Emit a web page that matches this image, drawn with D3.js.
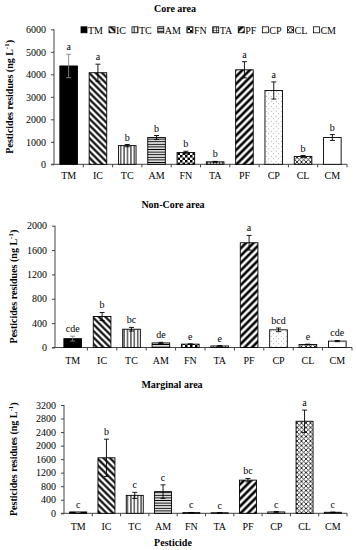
<!DOCTYPE html>
<html>
<head>
<meta charset="utf-8">
<script src="https://cdn.jsdelivr.net/npm/d3@7"></script>
<style>
  body { margin: 0; background: #fff; }
  svg { display: block; font-family: "Liberation Serif", "Times New Roman", serif; }
</style>
</head>
<body>
<div id="chart"></div>
<script>
// pesticides on the x axis
var categories = ["TM", "IC", "TC", "AM", "FN", "TA", "PF", "CP", "CL", "CM"];

// core area
var coreValues  = [4370, 4070, 830, 1190, 520, 110, 4200, 3280, 350, 1190];
var coreErrors  = [520, 380, 50, 90, 60, 20, 360, 380, 40, 130];
var coreLetters = ["a", "a", "b", "b", "b", "b", "a", "a", "b", "b"];
var coreTicks   = [0, 1000, 2000, 3000, 4000, 5000, 6000];

// non-core area
var nonCoreValues  = [145, 510, 300, 75, 55, 25, 1720, 290, 50, 105];
var nonCoreErrors  = [40, 65, 30, 10, 5, 5, 120, 30, 5, 10];
var nonCoreLetters = ["cde", "b", "bc", "de", "e", "e", "a", "bcd", "e", "cde"];
var nonCoreTicks   = [0, 400, 800, 1200, 1600, 2000];

// marginal area
var marginalValues  = [40, 1640, 530, 640, 20, 15, 980, 40, 2720, 30];
var marginalErrors  = [10, 550, 90, 200, 5, 5, 50, 10, 330, 5];
var marginalLetters = ["c", "b", "c", "c", "c", "c", "bc", "c", "a", "c"];
var marginalTicks   = [0, 400, 800, 1200, 1600, 2000, 2400, 2800, 3200];

var svg = d3.select("#chart").append("svg")
  .attr("width", 356)
  .attr("height", 550);

var defs = svg.append("defs");

// fill patterns, one per pesticide
function stripes(id, size, stroke, angle) {
  var p = defs.append("pattern").attr("id", id)
    .attr("patternUnits", "userSpaceOnUse")
    .attr("width", size).attr("height", size)
    .attr("patternTransform", "rotate(" + angle + ")");
  p.append("rect").attr("width", size).attr("height", size).attr("fill", "#fff");
  p.append("line").attr("x1", 0).attr("y1", size / 2).attr("x2", size).attr("y2", size / 2)
    .attr("stroke", "#000").attr("stroke-width", stroke);
}
stripes("p-IC", 4.6, 2.1, 45);
stripes("p-PF", 5.2, 2.6, -45);
stripes("p-TC", 3.4, 1, 90);
stripes("p-AM", 2.6, 1.1, 0);

var fn = defs.append("pattern").attr("id", "p-FN").attr("patternUnits", "userSpaceOnUse")
  .attr("width", 5).attr("height", 5);
fn.append("rect").attr("width", 5).attr("height", 5).attr("fill", "#fff");
fn.append("rect").attr("width", 2.5).attr("height", 2.5).attr("fill", "#000");
fn.append("rect").attr("x", 2.5).attr("y", 2.5).attr("width", 2.5).attr("height", 2.5).attr("fill", "#000");

var ta = defs.append("pattern").attr("id", "p-TA").attr("patternUnits", "userSpaceOnUse")
  .attr("width", 3).attr("height", 2.5);
ta.append("rect").attr("width", 3).attr("height", 2.5).attr("fill", "#fff");
ta.append("path").attr("d", "M0,0.5H3M0.5,0V2.5").attr("stroke", "#333").attr("stroke-width", 0.7);

var cp = defs.append("pattern").attr("id", "p-CP").attr("patternUnits", "userSpaceOnUse")
  .attr("width", 5).attr("height", 5);
cp.append("rect").attr("width", 5).attr("height", 5).attr("fill", "#fff");
cp.append("circle").attr("cx", 1.2).attr("cy", 1.2).attr("r", 0.45).attr("fill", "#666");
cp.append("circle").attr("cx", 3.7).attr("cy", 3.7).attr("r", 0.45).attr("fill", "#666");

var cl = defs.append("pattern").attr("id", "p-CL").attr("patternUnits", "userSpaceOnUse")
  .attr("width", 4.5).attr("height", 4.5);
cl.append("rect").attr("width", 4.5).attr("height", 4.5).attr("fill", "#fff");
cl.append("path").attr("d", "M0,0L4.5,4.5M4.5,0L0,4.5").attr("stroke", "#222").attr("stroke-width", 0.9);

var fills = {
  TM: "#000", IC: "url(#p-IC)", TC: "url(#p-TC)", AM: "url(#p-AM)", FN: "url(#p-FN)",
  TA: "url(#p-TA)", PF: "url(#p-PF)", CP: "url(#p-CP)", CL: "url(#p-CL)", CM: "#fff"
};

function drawPanel(o) {
  var g = svg.append("g");

  var x = d3.scaleBand().domain(categories).range([o.left + o.inset, o.right]).paddingInner(0.4).paddingOuter(0.2);
  var y = d3.scaleLinear().domain([0, d3.max(o.ticks)]).range([o.bottom, o.top]);

  // y axis
  var yAxis = g.append("g").attr("transform", "translate(" + o.left + ",0)")
    .call(d3.axisLeft(y).tickValues(o.ticks).tickSize(3).tickPadding(5).tickFormat(d3.format("d")));
  yAxis.select(".domain").attr("stroke", "#444").attr("d", "M0," + o.top + "V" + o.bottom);
  yAxis.selectAll(".tick line").attr("stroke", "#444");
  yAxis.selectAll("text").attr("font-size", 10).attr("font-family", "Liberation Serif").attr("fill", "#000");

  // x axis line with separator ticks
  g.append("line").attr("x1", o.left - 3).attr("x2", o.right).attr("y1", o.bottom).attr("y2", o.bottom)
    .attr("stroke", "#444");
  var step = x.step();
  g.selectAll(".sep").data(categories).enter().append("line")
    .attr("x1", function(d) { return x(d) + x.bandwidth() + (step - x.bandwidth()) / 2; })
    .attr("x2", function(d) { return x(d) + x.bandwidth() + (step - x.bandwidth()) / 2; })
    .attr("y1", o.bottom).attr("y2", o.bottom + 3)
    .attr("stroke", "#444");

  g.selectAll(".xl").data(categories).enter().append("text")
    .attr("x", function(d) { return x(d) + x.bandwidth() / 2; })
    .attr("y", o.labelY)
    .attr("text-anchor", "middle").attr("font-size", 10)
    .text(function(d) { return d; });

  // bars
  g.selectAll(".bar").data(categories).enter().append("rect")
    .attr("x", function(d) { return x(d); })
    .attr("width", x.bandwidth())
    .attr("y", function(d, i) { return y(o.values[i]); })
    .attr("height", function(d, i) { return o.bottom - y(o.values[i]); })
    .attr("fill", function(d) { return fills[d]; })
    .attr("stroke", "#000").attr("stroke-width", 0.9);

  // error bars
  var cap = 2.5;
  categories.forEach(function(d, i) {
    var cx = x(d) + x.bandwidth() / 2;
    var lo = y(Math.max(0, o.values[i] - o.errors[i])), hi = y(o.values[i] + o.errors[i]);
    var col = d === "TM" ? "#888" : "#000";
    g.append("path")
      .attr("d", "M" + cx + "," + lo + "V" + hi + "M" + (cx - cap) + "," + hi + "H" + (cx + cap) +
        "M" + (cx - cap) + "," + lo + "H" + (cx + cap))
      .attr("stroke", col).attr("stroke-width", 0.9).attr("fill", "none");
    g.append("text")
      .attr("x", cx).attr("y", hi - 4)
      .attr("text-anchor", "middle").attr("font-size", 10)
      .text(o.letters[i]);
  });

  // title
  g.append("text").attr("x", o.titleX).attr("y", o.titleY)
    .attr("text-anchor", "middle").attr("font-size", 10).attr("font-weight", "bold")
    .text(o.title);

  // y axis title
  var yt = g.append("text")
    .attr("transform", "translate(" + o.yLabelX + "," + ((o.top + o.bottom) / 2) + ") rotate(-90)")
    .attr("text-anchor", "middle").attr("font-size", 10).attr("font-weight", "bold");
  yt.append("tspan").text("Pesticides residues (ng L");
  yt.append("tspan").attr("font-size", 7).attr("dy", -4).text("-1");
  yt.append("tspan").attr("dy", 4).text(")");
}

drawPanel({ title: "Core area", titleX: 175, titleY: 12, values: coreValues, errors: coreErrors,
  letters: coreLetters, ticks: coreTicks, left: 54, inset: 0, right: 347, top: 29.3, bottom: 164.3,
  labelY: 179, yLabelX: 13 });

drawPanel({ title: "Non-Core area", titleX: 173, titleY: 207.5, values: nonCoreValues, errors: nonCoreErrors,
  letters: nonCoreLetters, ticks: nonCoreTicks, left: 55, inset: 3, right: 352, top: 225.7, bottom: 347.5,
  labelY: 364, yLabelX: 17 });

drawPanel({ title: "Marginal area", titleX: 172, titleY: 387.5, values: marginalValues, errors: marginalErrors,
  letters: marginalLetters, ticks: marginalTicks, left: 64, inset: 0, right: 347, top: 405, bottom: 513.3,
  labelY: 529.5, yLabelX: 17 });

svg.append("text").attr("x", 173).attr("y", 545.5)
  .attr("text-anchor", "middle").attr("font-size", 10).attr("font-weight", "bold")
  .text("Pesticide");

// legend for core panel
var lx = 81;
var legend = svg.append("g").attr("transform", "translate(0,30)");
categories.forEach(function(d) {
  legend.append("rect").attr("x", lx).attr("y", -3.2).attr("width", 6).attr("height", 6)
    .attr("fill", fills[d]).attr("stroke", "#000").attr("stroke-width", 0.8);
  var t = legend.append("text").attr("x", lx + 7).attr("y", 3.6).attr("font-size", 10).text(d);
  lx += 7 + t.node().getComputedTextLength() + 6;
});
</script>
</body>
</html>
